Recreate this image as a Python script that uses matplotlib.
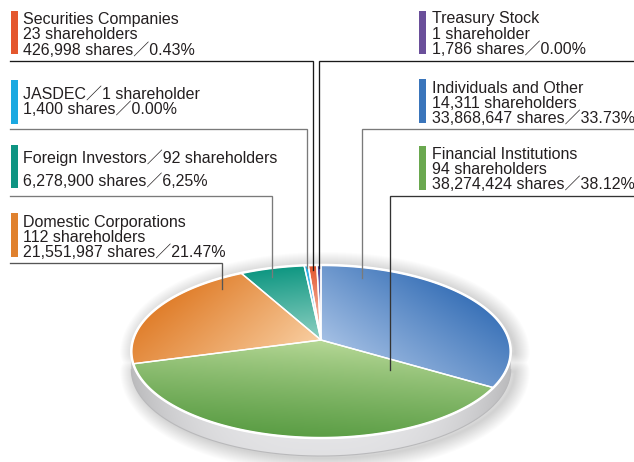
import numpy as np
import matplotlib
matplotlib.use("Agg")
import matplotlib.pyplot as plt
from matplotlib.patches import Polygon, Rectangle
from matplotlib.colors import to_rgb

# ---- shareholder composition ----
categories = ["Individuals and Other", "Financial Institutions", "Domestic Corporations",
              "Foreign Investors", "JASDEC", "Securities Companies", "Treasury Stock"]
shareholders = [14311, 94, 112, 92, 1, 23, 1]
shares = [33868647, 38274424, 21551987, 6278900, 1400, 426998, 1786]
percent = [33.73, 38.12, 21.47, 6.25, 0.00, 0.43, 0.00]
percent_text = ["33.73%", "38.12%", "21.47%", "6,25%", "0.00%", "0.43%", "0.00%"]

# ---- styling ----
dark_colors = ["#3a72b8", "#5a9d44", "#e07e2b", "#0d9681", "#1ea9e1", "#e3522a", "#4a3d8c"]
light_colors = ["#a6c1e5", "#b8d998", "#f9d0a4", "#92d2c4", "#d6effa", "#fbe0d4", "#d9d4ea"]
bar_colors = ["#3a75bb", "#6aa84f", "#e0812e", "#0e9482", "#1ba9e1", "#e4572e", "#6a4f9a"]
TEXT = "#231f20"
FONT = ["Liberation Sans", "Noto Sans CJK JP"]
FS = 11.5

W, H = 634, 462
fig = plt.figure(figsize=(W / 100, H / 100), dpi=100)
ax = fig.add_axes([0, 0, 1, 1])
ax.set_xlim(0, W)
ax.set_ylim(H, 0)
ax.axis("off")

# ---- tilted pie geometry (perspective view of a disc) ----
CX, CY = 321.0, 340.0
A, B, K = 188.0, 85.0, -0.133
DEPTH = 18.0


def proj(X, Y):
    den = 1 + K * Y
    return CX + A * X / den, CY + B * Y / den


def unproj(x, y):
    u = (x - CX) / A
    v = (y - CY) / B
    s = 1 - K * v
    return u / s, v / s


def disc_point(theta_deg, r=1.0):
    t = np.radians(theta_deg)
    return proj(r * np.sin(t), -r * np.cos(t))


# tiny holdings get a minimum visible sliver, taken from the largest slice
pct = np.array(percent, dtype=float)
disp = pct.copy()
tiny = pct < 1.0
disp[tiny] += 0.4
disp[np.argmax(pct)] -= 0.4 * tiny.sum()
edges = np.concatenate([[0.0], np.cumsum(disp)]) * 3.6

# outline of the top face
th = np.linspace(0, 360, 1441)
bx, by = disc_point(th)
i_r = int(np.argmax(bx[:720]))
i_l = 720 + int(np.argmin(bx[720:]))
lower = np.column_stack([bx[i_r:i_l + 1], by[i_r:i_l + 1]])
upper = np.vstack([np.column_stack([bx[i_l:], by[i_l:]]),
                   np.column_stack([bx[:i_r + 1], by[:i_r + 1]])])
silhouette = np.vstack([upper, lower[::-1] + [0, DEPTH]])
side_poly = np.vstack([lower, (lower + [0, DEPTH])[::-1]])

# soft drop shadow
shadow = silhouette + [4, 2]
for w in np.linspace(30, 2, 15):
    ax.add_patch(Polygon(shadow, closed=True, facecolor="none",
                         edgecolor=(0, 0, 0, 0.013), lw=w * 0.72,
                         joinstyle="round", zorder=1))

# pixel grid for gradients
x0, x1, y0, y1 = 120, 525, 255, 462
gx, gy = np.meshgrid(np.arange(x0, x1, 0.5) + 0.25, np.arange(y0, y1, 0.5) + 0.25)
extent = (x0, x1, y1, y0)

# side wall
xn = np.abs(gx - CX) / 190.0
vn = np.clip((gy - 360) / 100.0, 0, 1)
g = np.clip(0.94 - 0.20 * xn ** 3 - 0.06 * vn, 0, 1)
side_img = np.clip(np.dstack([g, g, g * 1.01]), 0, 1)
side_patch = Polygon(side_poly, closed=True, facecolor="none", edgecolor="none", zorder=2)
ax.add_patch(side_patch)
im = ax.imshow(side_img, extent=extent, origin="upper", zorder=2, interpolation="bilinear")
im.set_clip_path(side_patch)
ax.plot(lower[:, 0], lower[:, 1] + DEPTH, color="#b9b9bb", lw=0.8, zorder=2)

# slices with a linear shade along each slice's mid direction
GX, GY = unproj(gx, gy)
for i in range(len(categories)):
    a0, a1 = edges[i], edges[i + 1]
    arc = np.linspace(a0, a1, max(4, int((a1 - a0) * 4)))
    px, py = disc_point(arc)
    poly = np.vstack([[CX, CY], np.column_stack([px, py])])
    wedge = Polygon(poly, closed=True, facecolor="none", edgecolor="none", zorder=3)
    ax.add_patch(wedge)
    m = np.radians((a0 + a1) / 2)
    t = np.clip(GX * np.sin(m) - GY * np.cos(m), 0, 1) ** 0.9
    lc = np.array(to_rgb(light_colors[i]))
    dc = np.array(to_rgb(dark_colors[i]))
    img = lc[None, None, :] + (dc - lc)[None, None, :] * t[..., None]
    im = ax.imshow(img, extent=extent, origin="upper", zorder=3, interpolation="bilinear")
    im.set_clip_path(wedge)
    ax.add_patch(Polygon(poly, closed=True, facecolor="none", edgecolor="white",
                         lw=1.0, joinstyle="miter", zorder=4))

# white rim around the top face
ax.add_patch(Polygon(np.column_stack([bx, by]), closed=True, facecolor="none",
                     edgecolor="white", lw=1.8, zorder=5))
ax.set_xlim(0, W)
ax.set_ylim(H, 0)

# ---- labels ----
# side, bar span, text baselines, leader y, leader colour, anchor (fraction within slice, radius)
layout = {
    "Securities Companies": ("L", (11, 54), [24, 39.3, 54.6], 60.5, "#1a1a1a", (0.5, 0.93)),
    "JASDEC": ("L", (80, 124), [98.3, 114.5], 129, "#7a7a7a", (0.5, 0.96)),
    "Foreign Investors": ("L", (145, 188), [163.3, 185.5], 195.5, "#7a7a7a", (0.4, 0.87)),
    "Domestic Corporations": ("L", (213, 257), [226.7, 241.7, 257], 262.7, "#555555", (0.833, 0.868)),
    "Treasury Stock": ("R", (11, 54), [22.7, 39, 54.3], 60.5, "#1a1a1a", (0.5, 0.96)),
    "Individuals and Other": ("R", (79, 123), [92.7, 108.3, 123.3], 129.3, "#7a7a7a", (0.137, 0.84)),
    "Financial Institutions": ("R", (146, 190), [159.3, 174.3, 189.3], 196, "#333333", (0.093, 0.487)),
}
two_line = {"JASDEC", "Foreign Investors"}

for i, name in enumerate(categories):
    side, (b0, b1), bases, ly, lcol, (frac, rad) = layout[name]
    n = shareholders[i]
    holders = f"{n:,} shareholder" + ("s" if n > 1 else "")
    share_line = f"{shares[i]:,} shares／{percent_text[i]}"
    if name in two_line:
        lines = [f"{name}／{holders}", share_line]
    else:
        lines = [name, holders, share_line]

    bar_x = 11 if side == "L" else 419
    text_x = 23 if side == "L" else 432
    edge_x = 10 if side == "L" else 633

    ax.add_patch(Rectangle((bar_x, b0), 6.5, b1 - b0, facecolor=bar_colors[i],
                           edgecolor="none", zorder=6))
    for s, yb in zip(lines, bases):
        ax.text(text_x, yb, s, fontsize=FS, family=FONT, color=TEXT,
                va="baseline", ha="left", zorder=7)

    ang = edges[i] + frac * (edges[i + 1] - edges[i])
    axp, ayp = disc_point(ang, rad)
    ax.plot([edge_x, axp, axp], [ly, ly, ayp], color=lcol, lw=0.95,
            solid_joinstyle="miter", zorder=8)

fig.savefig("out.png", dpi=100, facecolor="white")
